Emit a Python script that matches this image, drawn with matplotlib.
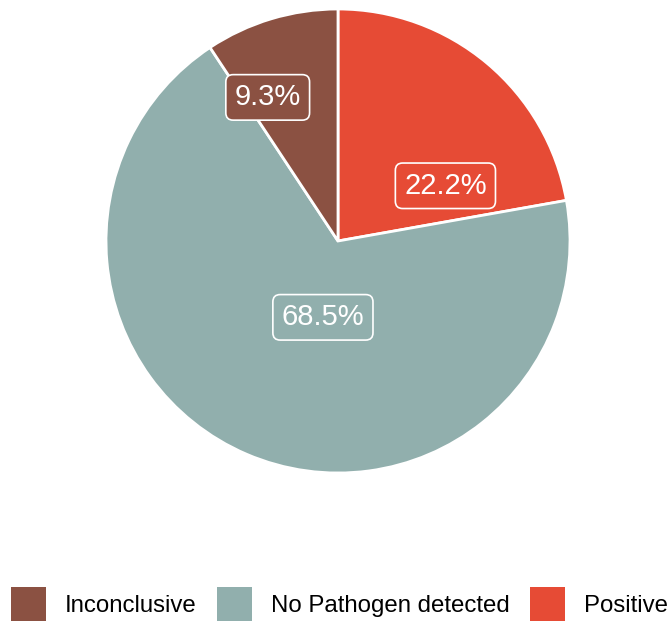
import matplotlib.pyplot as plt
from matplotlib.patches import Patch

plt.rcParams['font.family'] = ['Liberation Sans', 'DejaVu Sans']

# slices, drawn clockwise from 12 o'clock
categories = ["Positive", "No Pathogen detected", "Inconclusive"]
shares = [22.2, 68.5, 9.3]
colors = ["#E64B35", "#91AFAD", "#8B5142"]
# label spots (data coords, pie radius = 1)
label_xy = [(0.463, 0.238), (-0.065, -0.329), (-0.303, 0.619)]

legend_order = ["Inconclusive", "No Pathogen detected", "Positive"]

W, H = 670, 626
fig = plt.figure(figsize=(W / 100, H / 100), dpi=100)
cx, cy, r = 338, 241, 232
ax = fig.add_axes([(cx - r) / W, (H - cy - r) / H, 2 * r / W, 2 * r / H])

ax.pie(shares, colors=colors, startangle=90, counterclock=False, radius=1,
       wedgeprops=dict(edgecolor="white", linewidth=2))
ax.set_xlim(-1, 1)
ax.set_ylim(-1, 1)
ax.axis("off")

for val, col, (x, y) in zip(shares, colors, label_xy):
    ax.text(x, y, f"{val}%", ha="center", va="center", color="white", fontsize=21,
            bbox=dict(boxstyle="round,pad=0.3,rounding_size=0.25",
                      facecolor=col, edgecolor="white", linewidth=1.2))

col_of = dict(zip(categories, colors))
handles = [Patch(facecolor=col_of[c], edgecolor="none", label=c) for c in legend_order]
fig.legend(handles=handles, loc="center", bbox_to_anchor=(0.507, 0.035), ncol=3,
           frameon=False, fontsize=17.3, handlelength=1.46, handleheight=1.81,
           handletextpad=0.78, columnspacing=0.85, borderpad=0, borderaxespad=0)

fig.savefig("out.png", dpi=100)
